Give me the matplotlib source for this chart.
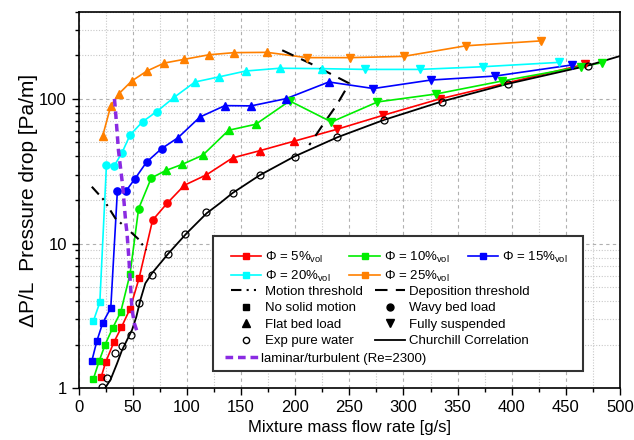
import numpy as np
import matplotlib
matplotlib.use("Agg")
import matplotlib.pyplot as plt
from matplotlib.lines import Line2D
from matplotlib.patches import Rectangle
from matplotlib.ticker import MultipleLocator, LogLocator, NullFormatter, FixedLocator, FixedFormatter

plt.rcParams['font.family'] = ['Liberation Sans', 'DejaVu Sans']
plt.rcParams['mathtext.fontset'] = 'custom'
plt.rcParams['mathtext.rm'] = 'Liberation Sans'
plt.rcParams['mathtext.it'] = 'Liberation Sans:italic'

# Phi = 5 vol%
x5 = [20.8, 25.1, 32.5, 39.5, 47.5, 55.8, 68.3, 81.8, 97.7, 117.9, 142.2, 167.6, 198.5, 238.7, 281.3, 333.5, 468.0]
y5 = [1.19, 1.52, 2.07, 2.63, 3.54, 5.74, 14.5, 19.0, 25.3, 29.8, 39.1, 43.9, 50.9, 61.7, 77.1, 100, 174]
m5 = ['s'] * 6 + ['o'] * 2 + ['^'] * 5 + ['v'] * 4

# Phi = 10 vol%
x10 = [13.5, 19.0, 24.5, 31.5, 38.9, 47.5, 55.4, 67.1, 80.6, 95.8, 114.6, 138.5, 163.6, 194.9, 233.5, 276.0, 329.6, 391.0, 463.6, 483.7]
y10 = [1.15, 1.54, 2.0, 2.61, 3.36, 6.15, 17.4, 28.4, 32.0, 35.3, 40.8, 60.7, 66.8, 96.9, 69.3, 95.3, 108, 133, 167, 178]
m10 = ['s'] * 6 + ['o'] * 2 + ['^'] * 5 + ['v'] * 7

# Phi = 15 vol%
x15 = [12.3, 16.8, 22.3, 29.7, 35.8, 43.8, 52.1, 62.8, 76.6, 91.9, 112.1, 135.1, 159.3, 191.8, 231.0, 272.3, 325.0, 384.8, 456.0]
y15 = [1.55, 2.11, 2.83, 3.58, 23.1, 23.1, 28.1, 36.6, 45.3, 54.0, 75, 89.9, 89.5, 100.5, 131, 118, 135, 144, 172]
m15 = ['s'] * 4 + ['o'] * 5 + ['^'] * 6 + ['v'] * 4

# Phi = 20 vol%
x20 = [13.5, 19.6, 25.7, 32.8, 40.1, 47.5, 59.1, 72.2, 88.5, 107.5, 129.6, 154.4, 185.7, 224.3, 264.4, 315.0, 373.4, 443.8]
y20 = [2.89, 3.92, 35.0, 34.4, 42.5, 56.3, 69.6, 81.8, 103, 131, 142, 156, 163, 162, 160, 160, 167, 179]
m20 = ['s'] * 2 + ['o'] * 6 + ['^'] * 6 + ['v'] * 4

# Phi = 25 vol%
x25 = [22.3, 29.7, 37.4, 49.0, 63.1, 79.0, 97.7, 120.4, 143.7, 174.0, 210.8, 251.0, 300.3, 357.5, 426.8]
y25 = [55.7, 89.5, 109, 133, 156, 177, 188, 202, 209, 210, 193, 193, 197, 233, 252]
m25 = ['^'] * 10 + ['v'] * 5

# pure water experiments
xw = [21.4, 26.6, 33.7, 40.2, 48.2, 56.2, 68.0, 82.2, 98.5, 117.5, 142.2, 167.3, 199.4, 238.7, 282.2, 335.5, 396.7, 470.0]
yw = [1.01, 1.18, 1.75, 1.95, 2.33, 3.9, 6.1, 8.45, 11.7, 16.4, 22.3, 29.6, 39.9, 54.3, 71.6, 95.8, 127, 170]

# Churchill correlation
xc = [23.3, 29.4, 35.5, 40.1, 44.7, 49.3, 53.3, 57.0, 61.6, 67.7, 75.4, 83.0, 99.9, 118.3, 130.5, 142, 167, 199, 239, 282, 335, 396, 469, 500]
yc = [0.97, 1.14, 1.48, 1.83, 2.15, 2.52, 3.11, 4.06, 5.30, 6.22, 7.30, 8.55, 11.8, 16.2, 19.0, 22.3, 29.6, 39.9, 54.3, 71.6, 95.8, 127, 169, 198]

# thresholds
xm = [12.2, 23.3, 34.0, 44.7, 55.4, 62.5]
ym = [24.7, 20.0, 14.9, 12.7, 10.7, 9.0]
xd = [188, 214, 250, 238, 226, 213]
yd = [217, 176, 128, 90, 67, 48]
xl = [33.1, 34.0, 36.8, 40.7, 43.5, 44.7, 46.5, 47.8, 49.3, 51.5, 54.5]
yl = [100, 84, 44, 25, 14, 11.8, 7.7, 5.3, 3.5, 2.8, 2.39]

series = [
    (x5, y5, m5, '#ff0000', '5'),
    (x10, y10, m10, '#00ee00', '10'),
    (x15, y15, m15, '#0000ff', '15'),
    (x20, y20, m20, '#00ffff', '20'),
    (x25, y25, m25, '#ff8000', '25'),
]
msize = {'s': 4.5, 'o': 5.2, '^': 5.8, 'v': 5.8}

fig = plt.figure(figsize=(6.34, 4.4), dpi=100)
ax = fig.add_axes([0.124, 0.118, 0.854, 0.855])

for x, y, m, c, lab in series:
    ax.plot(x, y, color=c, lw=1.2, zorder=3)
    x = np.array(x)
    y = np.array(y)
    m = np.array(m)
    for mk in ['s', 'o', '^', 'v']:
        sel = m == mk
        if sel.any():
            ax.plot(x[sel], y[sel], ls='none', marker=mk, ms=msize[mk], color=c, zorder=4)

ax.plot(xc, yc, color='black', lw=1.3, zorder=3)
ax.plot(xw, yw, ls='none', marker='o', ms=5, mfc='none', mec='black', mew=0.9, zorder=5)
ax.plot(xm, ym, color='black', lw=1.5, dashes=[5, 2.5, 1, 2.5, 1, 2.5], zorder=3)
ax.plot(xd, yd, color='black', lw=1.5, dashes=[6, 4], zorder=3)
ax.plot(xl, yl, color='#8a2be2', lw=2.5, dashes=[2.2, 1.4], zorder=6)

ax.set_yscale('log')
ax.set_xlim(0, 500)
ax.set_ylim(1, 400)
ax.xaxis.set_major_locator(MultipleLocator(50))
ax.xaxis.set_minor_locator(MultipleLocator(25))
ax.yaxis.set_major_locator(FixedLocator([1, 10, 100]))
ax.yaxis.set_major_formatter(FixedFormatter(['1', '10', '100']))
ax.yaxis.set_minor_locator(LogLocator(base=10, subs=np.arange(2, 10)))
ax.yaxis.set_minor_formatter(NullFormatter())

ax.grid(which='major', color='#b0b0b0', ls=(0, (3, 3)), lw=0.8)
ax.grid(which='minor', color='#c8c8c8', ls=(0, (1, 1.5)), lw=0.8)
ax.set_axisbelow(True)
ax.tick_params(which='major', direction='out', length=5, width=1, labelsize=12)
ax.tick_params(which='minor', direction='out', length=3, width=1)
for s in ax.spines.values():
    s.set_linewidth(1.2)

ax.set_xlabel('Mixture mass flow rate [g/s]', fontsize=12, labelpad=4)
ax.set_ylabel('ΔP/L  Pressure drop [Pa/m]', fontsize=15, labelpad=1)

# legend frame
ax.add_patch(Rectangle((0.248, 0.045), 0.684, 0.359, transform=ax.transAxes,
                       facecolor='white', edgecolor='#333333', lw=1.5, zorder=10))

h1 = [Line2D([], [], color=c, marker='s', ms=4.5, lw=1.2,
             label=r'$\Phi$ = ' + lab + r'%$_{\mathrm{vol}}$') for _, _, _, c, lab in series]
order = [0, 3, 1, 4, 2]
leg1 = ax.legend(handles=[h1[i] for i in order], ncol=3, loc='upper left',
                 bbox_to_anchor=(0.262, 0.395), frameon=False, fontsize=9.5,
                 handlelength=2.3, handletextpad=0.3, columnspacing=1.4,
                 labelspacing=0.25, borderpad=0.3)
leg1.set_zorder(11)
ax.add_artist(leg1)

h2 = [
    Line2D([], [], color='black', lw=1.5, dashes=[5, 2.5, 1, 2.5, 1, 2.5], label='Motion threshold'),
    Line2D([], [], ls='none', marker='s', ms=4.5, color='black', label='No solid motion'),
    Line2D([], [], ls='none', marker='^', ms=5.5, color='black', label='Flat bed load'),
    Line2D([], [], ls='none', marker='o', ms=4.5, mfc='none', mec='black', label='Exp pure water'),
    Line2D([], [], color='black', lw=1.5, dashes=[6, 4], label='Deposition threshold'),
    Line2D([], [], ls='none', marker='o', ms=5, color='black', label='Wavy bed load'),
    Line2D([], [], ls='none', marker='v', ms=5.5, color='black', label='Fully suspended'),
    Line2D([], [], color='black', lw=1.3, label='Churchill Correlation'),
]
leg2 = ax.legend(handles=h2, ncol=2, loc='upper left',
                 bbox_to_anchor=(0.262, 0.30), frameon=False, fontsize=9.5,
                 handlelength=2.3, handletextpad=0.3, columnspacing=0.9,
                 labelspacing=0.32, borderpad=0.3)
leg2.set_zorder(11)
ax.add_artist(leg2)

h3 = [Line2D([], [], color='#8a2be2', lw=2.5, dashes=[2.2, 1.4], label='laminar/turbulent (Re=2300)')]
leg3 = ax.legend(handles=h3, loc='upper left', bbox_to_anchor=(0.25, 0.122),
                 frameon=False, fontsize=9.5, handlelength=2.6, handletextpad=0.2,
                 borderpad=0.3)
leg3.set_zorder(11)

plt.savefig('out.png', dpi=100)
